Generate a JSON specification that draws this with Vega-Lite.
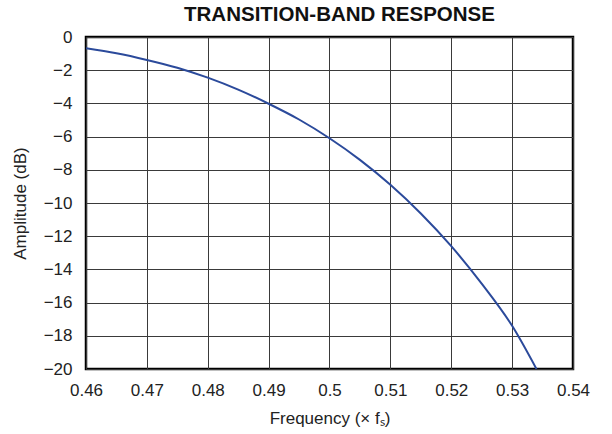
{
  "$schema": "https://vega.github.io/schema/vega-lite/v6.json",
  "width": 487,
  "height": 332,
  "autosize": "none",
  "padding": {"left": 86, "top": 37, "right": 39, "bottom": 65},
  "background": "white",
  "config": {
    "font": "Liberation Sans",
    "view": {"stroke": "black", "strokeWidth": 2.5},
    "axis": {
      "grid": true,
      "gridColor": "#3a3a3a",
      "gridWidth": 1,
      "gridOpacity": 1,
      "domain": false,
      "ticks": false,
      "labelFont": "Liberation Sans",
      "labelFontSize": 17,
      "labelColor": "#222",
      "titleFont": "Liberation Sans",
      "titleFontSize": 17,
      "titleFontWeight": "normal",
      "titleColor": "#222"
    }
  },
  "title": {
    "text": "TRANSITION-BAND RESPONSE",
    "font": "Liberation Sans",
    "fontSize": 20.5,
    "fontWeight": "bold",
    "color": "#111",
    "anchor": "middle",
    "dx": 10,
    "offset": 3
  },
  "data": {
    "values": [
      {"freq": 0.46, "amp": -0.68},
      {"freq": 0.465, "amp": -0.98},
      {"freq": 0.47, "amp": -1.38},
      {"freq": 0.475, "amp": -1.85},
      {"freq": 0.48, "amp": -2.45},
      {"freq": 0.485, "amp": -3.17},
      {"freq": 0.49, "amp": -4.02},
      {"freq": 0.495, "amp": -4.97},
      {"freq": 0.5, "amp": -6.1},
      {"freq": 0.505, "amp": -7.4},
      {"freq": 0.51, "amp": -8.9},
      {"freq": 0.515, "amp": -10.63},
      {"freq": 0.52, "amp": -12.6},
      {"freq": 0.525, "amp": -14.86},
      {"freq": 0.53, "amp": -17.4},
      {"freq": 0.534, "amp": -20}
    ]
  },
  "mark": {"type": "line", "color": "#2b4a9b", "strokeWidth": 2, "interpolate": "monotone", "clip": true},
  "encoding": {
    "x": {
      "field": "freq",
      "type": "quantitative",
      "scale": {"domain": [0.46, 0.54], "nice": false, "zero": false},
      "axis": {
        "title": "Frequency (× fₛ)",
        "values": [0.46, 0.47, 0.48, 0.49, 0.5, 0.51, 0.52, 0.53, 0.54],
        "format": "~g",
        "labelPadding": 13,
        "titlePadding": 12,
        "labelFlush": false
      }
    },
    "y": {
      "field": "amp",
      "type": "quantitative",
      "scale": {"domain": [-20, 0], "nice": false},
      "axis": {
        "title": "Amplitude (dB)",
        "values": [0, -2, -4, -6, -8, -10, -12, -14, -16, -18, -20],
        "labelPadding": 14,
        "titlePadding": 14,
        "labelFlush": false
      }
    }
  }
}
